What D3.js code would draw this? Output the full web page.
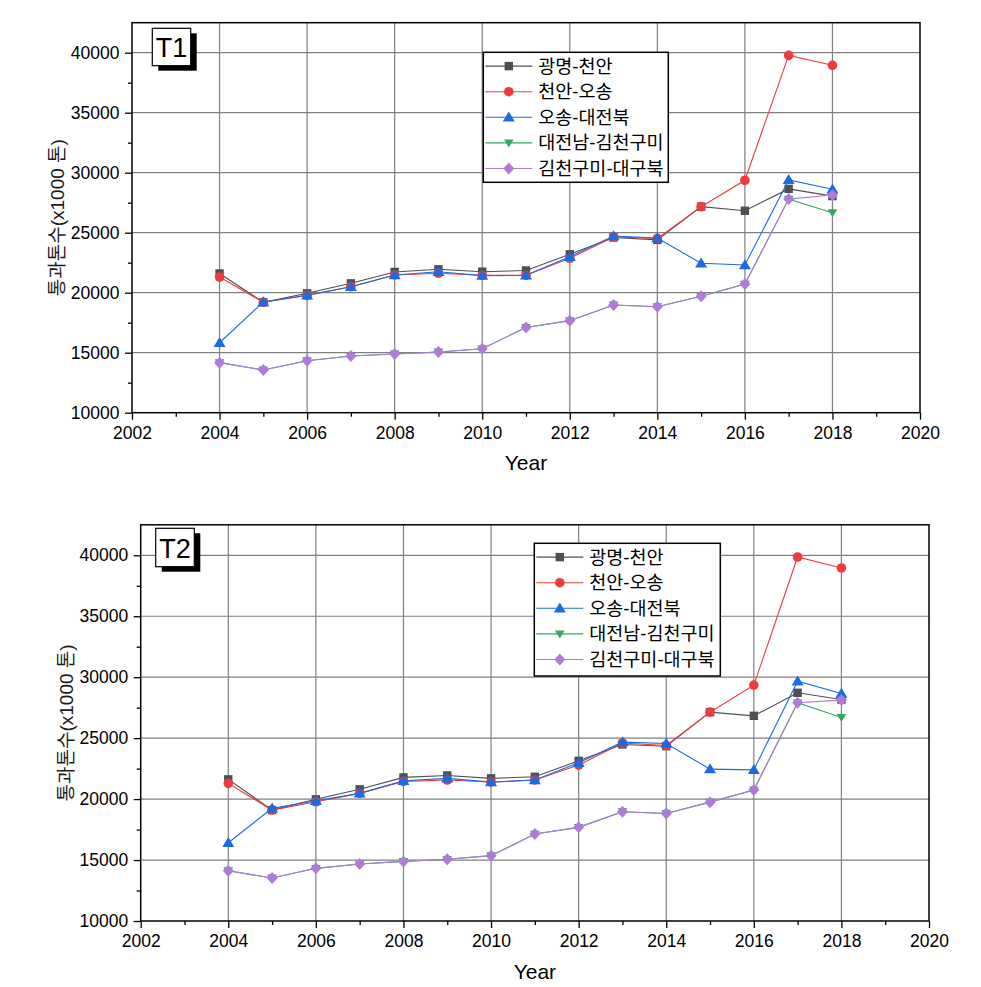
<!DOCTYPE html>
<html>
<head>
<meta charset="utf-8">
<script src="https://cdn.jsdelivr.net/npm/d3@7"></script>
<style>
  html, body { margin: 0; padding: 0; background: #fff; }
  svg { display: block; }
</style>
</head>
<body>
<svg id="chart" width="981" height="987"></svg>
<script>
// ---------------- DATA ----------------
const years = [2004, 2005, 2006, 2007, 2008, 2009, 2010, 2011, 2012, 2013, 2014, 2015, 2016, 2017, 2018];
const seriesNames = ["광명-천안", "천안-오송", "오송-대전북", "대전남-김천구미", "김천구미-대구북"];

// Chart T1
const t1Gwangmyeong = [21600, 19200, 19950, 20780, 21730, 21950, 21750, 21850, 23200, 24600, 24400, 27170, 26830, 28650, 28050];
const t1Cheonan     = [21300, 19200, 19780, 20500, 21480, 21620, 21450, 21450, 22870, 24650, 24530, 27170, 29370, 39780, 38950];
const t1Osong       = [15830, 19230, 19790, 20500, 21480, 21750, 21420, 21450, 23000, 24720, 24560, 22450, 22310, 29400, 28620];
const t1Daejeon     = [14170, 13560, 14330, 14720, 14890, 15060, 15330, 17100, 17670, 18980, 18830, 19700, 20720, 27800, 26670];
const t1Gimcheon    = [14170, 13560, 14330, 14720, 14890, 15060, 15330, 17100, 17670, 18980, 18830, 19700, 20720, 27800, 28140];

// Chart T2
const t2Gwangmyeong = [21620, 19100, 19980, 20800, 21780, 21940, 21700, 21830, 23140, 24480, 24340, 27130, 26830, 28720, 28170];
const t2Cheonan     = [21290, 19100, 19780, 20470, 21450, 21560, 21400, 21560, 22790, 24600, 24400, 27130, 29350, 39860, 38960];
const t2Osong       = [16420, 19240, 19860, 20470, 21500, 21700, 21390, 21560, 22980, 24670, 24560, 22460, 22400, 29670, 28660];
const t2Daejeon     = [14120, 13530, 14320, 14670, 14890, 15060, 15360, 17130, 17680, 18960, 18820, 19750, 20740, 27900, 26700];
const t2Gimcheon    = [14120, 13530, 14320, 14670, 14890, 15060, 15360, 17130, 17680, 18960, 18820, 19750, 20740, 27900, 28120];

const xTicks = [2002, 2004, 2006, 2008, 2010, 2012, 2014, 2016, 2018, 2020];
const yTicks = [10000, 15000, 20000, 25000, 30000, 35000, 40000];
const xDomain = [2002, 2020];
const yDomain = [10000, 42500];
const yTitle = "통과톤수(x1000 톤)";
const xTitle = "Year";

// ---------------- STYLE ----------------
const seriesColors = ["#4f4f4f", "#f03a3d", "#1b6be3", "#36a862", "#b07ad9"];
const markerTypes = ["square", "circle", "triangle", "triangleDown", "diamond"];
const latin = "'Liberation Sans', Arial, sans-serif";
const korean = "'Liberation Sans', 'Noto Sans CJK KR', sans-serif";

const svg = d3.select("#chart");

function markerPath(type) {
  const p = d3.path();
  if (type === "square") { p.rect(-4.2, -4.2, 8.4, 8.4); }
  else if (type === "circle") { p.arc(0, 0, 4.8, 0, 2 * Math.PI); }
  else if (type === "triangle") { p.moveTo(0, -5.8); p.lineTo(6, 4.2); p.lineTo(-6, 4.2); p.closePath(); }
  else if (type === "triangleDown") { p.moveTo(0, 4.6); p.lineTo(4.8, -3.4); p.lineTo(-4.8, -3.4); p.closePath(); }
  else if (type === "diamond") { p.moveTo(0, -6); p.lineTo(5.5, 0); p.lineTo(0, 6); p.lineTo(-5.5, 0); p.closePath(); }
  return p.toString();
}

function drawChart(cfg) {
  const g = svg.append("g");
  const x = d3.scaleLinear().domain(xDomain).range([cfg.left, cfg.right]);
  const y = d3.scaleLinear().domain(yDomain).range([cfg.bottom, cfg.top]);

  // grid
  g.append("g").selectAll("line").data(xTicks.slice(1, -1)).join("line")
    .attr("x1", d => x(d)).attr("x2", d => x(d))
    .attr("y1", cfg.top).attr("y2", cfg.bottom)
    .attr("stroke", "#808080").attr("stroke-width", 1.2);
  g.append("g").selectAll("line").data(yTicks.slice(1)).join("line")
    .attr("x1", cfg.left).attr("x2", cfg.right)
    .attr("y1", d => y(d)).attr("y2", d => y(d))
    .attr("stroke", "#808080").attr("stroke-width", 1.2);

  // axes
  const xMinor = d3.range(2003, 2020, 2);
  const yMinor = d3.range(12500, 42500, 5000);
  const xAxis = d3.axisBottom(x).tickValues(xTicks).tickFormat(d3.format("d")).tickSize(7).tickPadding(7);
  const xAxisMinor = d3.axisBottom(x).tickValues(xMinor).tickFormat("").tickSize(4);
  const yAxis = d3.axisLeft(y).tickValues(yTicks).tickFormat(d3.format("d")).tickSize(7).tickPadding(5.5);
  const yAxisMinor = d3.axisLeft(y).tickValues(yMinor).tickFormat("").tickSize(4);

  const gx = g.append("g").attr("transform", `translate(0,${cfg.bottom})`).call(xAxis);
  g.append("g").attr("transform", `translate(0,${cfg.bottom})`).call(xAxisMinor).select(".domain").remove();
  const gy = g.append("g").attr("transform", `translate(${cfg.left},0)`).call(yAxis);
  g.append("g").attr("transform", `translate(${cfg.left},0)`).call(yAxisMinor).select(".domain").remove();
  [gx, gy].forEach(a => {
    a.selectAll("text").attr("font-family", latin).attr("font-size", 17.5).attr("fill", "#000");
    a.select(".domain").remove();
  });
  g.selectAll(".tick line").attr("stroke", "#000").attr("stroke-width", 1.3);

  // frame
  g.append("rect")
    .attr("x", cfg.left).attr("y", cfg.top)
    .attr("width", cfg.right - cfg.left).attr("height", cfg.bottom - cfg.top)
    .attr("fill", "none").attr("stroke", "#000").attr("stroke-width", 1.5);

  // series
  cfg.series.forEach((vals, i) => {
    const pts = years.map((yr, j) => [yr, vals[j]]);
    g.append("path").datum(pts)
      .attr("fill", "none").attr("stroke", seriesColors[i]).attr("stroke-width", 1.1)
      .attr("d", d3.line().x(d => x(d[0])).y(d => y(d[1])));
    g.append("g").selectAll("path").data(pts).join("path")
      .attr("transform", d => `translate(${x(d[0])},${y(d[1])})`)
      .attr("d", markerPath(markerTypes[i]))
      .attr("fill", seriesColors[i]);
  });

  // label box (T1 / T2)
  const lb = cfg.labelBox;
  g.append("rect").attr("x", lb.x + 6).attr("y", lb.y + 5).attr("width", lb.w).attr("height", lb.h).attr("fill", "#000");
  g.append("rect").attr("x", lb.x).attr("y", lb.y).attr("width", lb.w).attr("height", lb.h)
    .attr("fill", "#fff").attr("stroke", "#000").attr("stroke-width", 1.2);
  g.append("text").attr("x", lb.x + lb.w / 2).attr("y", lb.y + lb.h / 2 + 10)
    .attr("text-anchor", "middle").attr("font-family", latin).attr("font-size", 27)
    .text(cfg.label);

  // legend
  const lg = cfg.legend;
  g.append("rect").attr("x", lg.x).attr("y", lg.y).attr("width", lg.w).attr("height", lg.h)
    .attr("fill", "#fff").attr("stroke", "#000").attr("stroke-width", 1.5);
  seriesNames.forEach((name, i) => {
    const cy = lg.y + 13.8 + i * 25.6;
    g.append("line").attr("x1", lg.x + 2).attr("x2", lg.x + 49).attr("y1", cy).attr("y2", cy)
      .attr("stroke", seriesColors[i]).attr("stroke-width", 1.1);
    g.append("path").attr("transform", `translate(${lg.x + 25.5},${cy})`)
      .attr("d", markerPath(markerTypes[i])).attr("fill", seriesColors[i]);
    g.append("text").attr("x", lg.x + 55).attr("y", cy + 6.5)
      .attr("font-family", korean).attr("font-size", 18.5).attr("fill", "#000")
      .text(name);
  });

  // axis titles
  g.append("text")
    .attr("transform", `translate(${cfg.yTitleX},${(cfg.top + cfg.bottom) / 2}) rotate(-90)`)
    .attr("text-anchor", "middle").attr("font-family", korean).attr("font-size", 19)
    .attr("fill", "#1a1a1a").text(yTitle);
  g.append("text")
    .attr("x", (cfg.left + cfg.right) / 2).attr("y", cfg.bottom + 57.5)
    .attr("text-anchor", "middle").attr("font-family", latin).attr("font-size", 21)
    .text(xTitle);
}

drawChart({
  left: 132, right: 920, top: 22.7, bottom: 412.7,
  label: "T1",
  labelBox: { x: 152.3, y: 28.3, w: 38.4, h: 37.4 },
  legend: { x: 483.3, y: 52.3, w: 185, h: 130 },
  yTitleX: 64,
  series: [t1Gwangmyeong, t1Cheonan, t1Osong, t1Daejeon, t1Gimcheon]
});

drawChart({
  left: 140.7, right: 929, top: 524.8, bottom: 921,
  label: "T2",
  labelBox: { x: 155.7, y: 528.3, w: 38.6, h: 38.4 },
  legend: { x: 534.3, y: 543.3, w: 186, h: 132.7 },
  yTitleX: 73,
  series: [t2Gwangmyeong, t2Cheonan, t2Osong, t2Daejeon, t2Gimcheon]
});
</script>
</body>
</html>
